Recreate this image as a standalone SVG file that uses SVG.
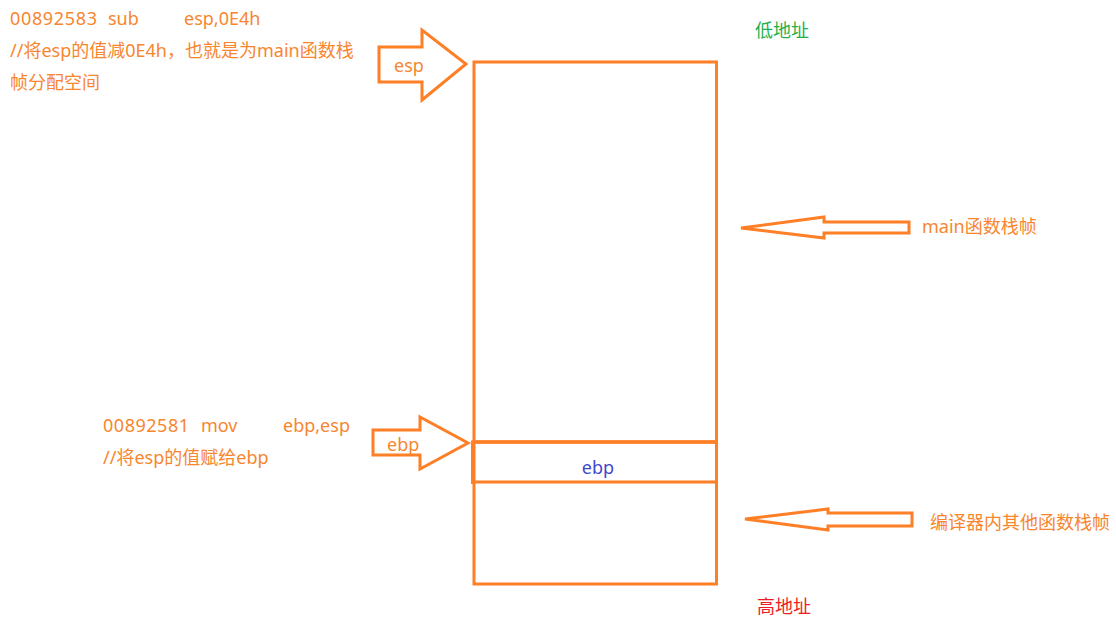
<svg xmlns="http://www.w3.org/2000/svg" width="1116" height="618" viewBox="0 0 1116 618">
<style>
text{font-family:"Noto Sans","Noto Sans CJK SC",sans-serif;font-size:18px;fill:#f7862f}
.shape{fill:none;stroke:#ff7f27;stroke-width:3}
.blue{fill:#3f48cc}
.green{fill:#22b14c}
.red{fill:#ed1c24}
</style>
<rect width="1116" height="618" fill="#fff"/>
<g id="stack">
  <rect class="shape" x="474" y="62" width="242.5" height="380"/>
  <rect class="shape" x="474" y="442" width="242.5" height="142"/>
  <line class="shape" x1="471" y1="442" x2="718" y2="442" stroke-width="5"/>
  <line class="shape" x1="472.5" y1="442" x2="472.5" y2="484" stroke-width="5"/>
  <line class="shape" x1="474" y1="482" x2="716.5" y2="482"/>
</g>
<g id="ebp-slot"><text class="blue" x="598" y="474" text-anchor="middle">ebp</text></g>
<g id="low-addr"><text class="green" x="755" y="37">低地址</text></g>
<g id="high-addr"><text class="red" x="757" y="613">高地址</text></g>
<g id="esp-code">
  <text x="10" y="25" textLength="87" lengthAdjust="spacing">00892583</text>
  <text x="108" y="25">sub</text>
  <text x="184" y="25">esp,0E4h</text>
  <text x="10" y="57">//将esp的值减0E4h，也就是为main函数栈</text>
  <text x="10" y="89">帧分配空间</text>
</g>
<g id="ebp-code">
  <text x="103" y="432" textLength="86" lengthAdjust="spacing">00892581</text>
  <text x="201" y="432">mov</text>
  <text x="283" y="432">ebp,esp</text>
  <text x="103" y="464">//将esp的值赋给ebp</text>
</g>
<g id="connectors">
  <polygon class="shape" points="379,47 422,47 422,30 466,64 422,100 422,82 379,82"/>
  <polygon class="shape" points="373,430 420,430 420,417 468,443 420,469 420,455 373,455"/>
  <polygon class="shape" points="741,228 824,217 824,222 909,222 909,233 824,233 824,238"/>
  <polygon class="shape" points="745,519 828,509 828,513 912,513 912,526 828,526 828,530"/>
</g>
<g id="esp-label"><text x="394" y="72">esp</text></g>
<g id="ebp-label"><text x="387" y="451">ebp</text></g>
<g id="main-label"><text x="922" y="233">main函数栈帧</text></g>
<g id="other-label"><text x="930" y="529">编译器内其他函数栈帧</text></g>
</svg>
